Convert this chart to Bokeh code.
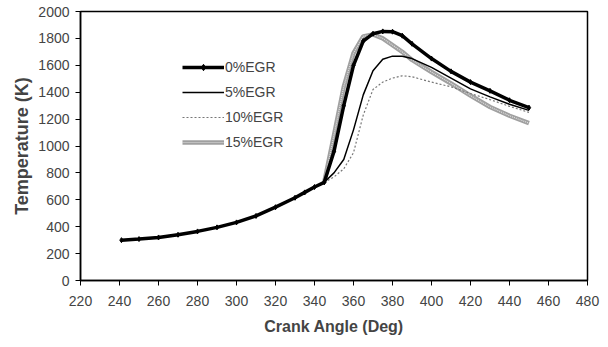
from bokeh.plotting import figure
from bokeh.models import Legend, LegendItem, Range1d, FixedTicker
from bokeh.embed import file_html
from bokeh.resources import INLINE

# Compression (common) part
ca_comp = [241, 250, 260, 270, 280, 290, 300, 310, 320, 330, 335, 340, 345]
t_comp = [300, 308, 320, 340, 365, 395, 432, 480, 545, 615, 655, 695, 730]

# Combustion part per EGR level
ca_comb = [345, 350, 355, 360, 365, 370, 375, 380, 385, 390, 400, 410, 420, 430, 440, 450]
t_egr0 = [730, 960, 1300, 1600, 1780, 1835, 1852, 1850, 1820, 1760, 1650, 1555, 1475, 1410, 1340, 1285]
t_egr5 = [730, 800, 900, 1120, 1380, 1560, 1645, 1668, 1668, 1650, 1585, 1505, 1425, 1365, 1310, 1265]
t_egr10 = [730, 770, 830, 950, 1230, 1420, 1475, 1505, 1522, 1515, 1475, 1440, 1390, 1345, 1295, 1250]
t_egr15 = [730, 1080, 1440, 1690, 1815, 1830, 1800, 1750, 1700, 1640, 1550, 1465, 1375, 1290, 1225, 1170]

labels = ["0%EGR", "5%EGR", "10%EGR", "15%EGR"]
x_ticks = list(range(220, 481, 20))
y_ticks = list(range(0, 2001, 200))

p = figure(width=608, height=347, output_backend="svg", toolbar_location=None,
           x_range=Range1d(220, 480), y_range=Range1d(0, 2000),
           min_border_left=80, min_border_right=21, min_border_top=11, min_border_bottom=67)

FONT = "Liberation Sans"

r15 = p.line(ca_comb, t_egr15, line_color="#a0a0a0", line_width=4.5)
r15b = p.line(ca_comb, t_egr15, line_color="#e0e0e0", line_width=1.2, line_dash="1 1")
r10 = p.line(ca_comb, t_egr10, line_color="#777777", line_width=1.2, line_dash="2 2")
r5 = p.line(ca_comb, t_egr5, line_color="black", line_width=1.5)
ca0 = ca_comp + ca_comb[1:]
t0 = t_comp + t_egr0[1:]
r0 = p.line(ca0, t0, line_color="black", line_width=3.5)
r0m = p.scatter(ca0, t0, marker="diamond", size=5, fill_color="black", line_color="black")

legend = Legend(items=[
    LegendItem(label=labels[0], renderers=[r0, r0m]),
    LegendItem(label=labels[1], renderers=[r5]),
    LegendItem(label=labels[2], renderers=[r10]),
    LegendItem(label=labels[3], renderers=[r15, r15b]),
], location=(102, 130))
legend.border_line_color = None
legend.background_fill_alpha = 0
legend.glyph_width = 42
legend.glyph_height = 16
legend.label_text_font = FONT
legend.label_text_font_size = "14px"
legend.label_height = 16
legend.spacing = 9
legend.padding = 0
legend.margin = 0
legend.label_standoff = 1
p.add_layout(legend)

p.xgrid.visible = False
p.ygrid.visible = False
p.outline_line_color = "black"
p.outline_line_width = 1.5

for ax in (p.xaxis, p.yaxis):
    ax.axis_line_color = "black"
    ax.axis_line_width = 1.5
    ax.major_tick_line_color = "black"
    ax.major_tick_in = 0
    ax.major_tick_out = 5
    ax.minor_tick_line_color = None
    ax.major_label_text_font = FONT
    ax.major_label_text_font_size = "14px"
    ax.axis_label_text_font = FONT
    ax.axis_label_text_font_style = "bold"

p.xaxis.axis_label_text_font_size = "16px"
p.yaxis.axis_label_text_font_size = "18px"
p.xaxis.ticker = FixedTicker(ticks=x_ticks)
p.yaxis.ticker = FixedTicker(ticks=y_ticks)
p.xaxis.axis_label = "Crank Angle (Deg)"
p.yaxis.axis_label = "Temperature (K)"
p.xaxis.major_label_standoff = 10
p.yaxis.major_label_standoff = 6
p.xaxis.axis_label_standoff = 9
p.yaxis.axis_label_standoff = 3

open("out.html", "w").write(file_html(p, INLINE))
